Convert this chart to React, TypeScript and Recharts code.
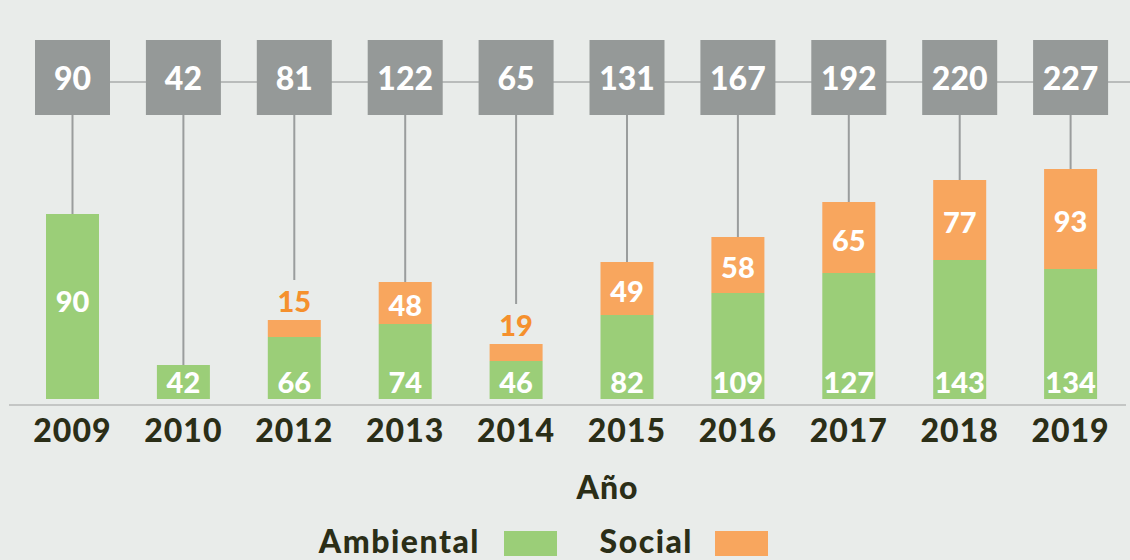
import React from 'react';
import { BarChart, Bar, XAxis, YAxis, LabelList, Legend } from 'recharts';

const years = ['2009', '2010', '2012', '2013', '2014', '2015', '2016', '2017', '2018', '2019'];
// values printed on the bars
const ambientalLabels = [90, 42, 66, 74, 46, 82, 109, 127, 143, 134];
const socialLabels = [0, 0, 15, 48, 19, 49, 58, 65, 77, 93];
const totals = [90, 42, 81, 122, 65, 131, 167, 192, 220, 227];
// bar heights as drawn in the picture (the 2009 bar is drawn about twice its printed value)
const ambientalHeights = [185, 34, 62, 75, 38, 84, 106, 126, 139, 130];
const socialHeights = [0, 0, 17, 42, 17, 53, 56, 71, 80, 100];

const data = years.map((year, i) => ({
  year,
  Ambiental: ambientalHeights[i],
  Social: socialHeights[i],
}));

const GREEN = '#9bce78';
const ORANGE = '#f8a65e';
const ORANGE_TEXT = '#f5902d';
const BOX = '#959998';
const DARK = '#2b2e17';
const FONT = 'Lato, "Open Sans", sans-serif';
const WEIGHT = 900;

const getBox = (p: any) => {
  const vb = p.viewBox && p.viewBox.width !== undefined ? p.viewBox : p;
  return { x: Number(vb.x), y: Number(vb.y), width: Number(vb.width), height: Number(vb.height) };
};

// drawn on the green (bottom) segment: green value, plus the total box and connectors
const AmbLabel = (props: any) => {
  const { x, y, width, height } = getBox(props);
  const i = years.indexOf(String(props.value));
  if (i < 0) return null;
  const cx = x + width / 2;
  const pxPerUnit = height / ambientalHeights[i];
  const stackTop = y - socialHeights[i] * pxPerUnit;
  const sHeight = socialHeights[i] * pxPerUnit;
  const outside = socialLabels[i] > 0 && sHeight < 30;
  const lineEnd = outside ? stackTop - 40 : stackTop;
  const baseline = height > 160 ? y + height / 2 + 5 : y + height - 6;
  return (
    <g>
      <line x1={cx} x2={cx + 120} y1={82} y2={82} stroke="#b9bcbb" strokeWidth={2} />
      <line x1={cx} x2={cx} y1={110} y2={lineEnd} stroke="#9a9d9d" strokeWidth={2} />
      <rect x={cx - 37.5} y={40} width={75} height={75} fill={BOX} />
      <text x={cx} y={90} textAnchor="middle" fill="#ffffff" fontSize={32} fontWeight={WEIGHT} fontFamily={FONT}>
        {totals[i]}
      </text>
      <text x={cx} y={baseline} textAnchor="middle" fill="#ffffff" fontSize={29} fontWeight={WEIGHT} fontFamily={FONT}>
        {ambientalLabels[i]}
      </text>
    </g>
  );
};

const SocialLabel = (props: any) => {
  const { x, y, width, height } = getBox(props);
  const i = years.indexOf(String(props.value));
  if (i < 0) return null;
  const s = socialLabels[i];
  if (!(s > 0)) return null;
  const cx = x + width / 2;
  const outside = height < 30;
  return (
    <text
      x={cx}
      y={outside ? y - 8 : y + height / 2 + 13}
      textAnchor="middle"
      fill={outside ? ORANGE_TEXT : '#ffffff'}
      fontSize={29}
      fontWeight={WEIGHT}
      fontFamily={FONT}
    >
      {s}
    </text>
  );
};

const AxisTitle = (props: any) => {
  const vb = props.viewBox || {};
  return (
    <text x={vb.x + vb.width / 2 + 40} y={vb.y + 94} textAnchor="middle" fill={DARK} fontSize={32} fontWeight={WEIGHT} fontFamily={FONT} letterSpacing={1}>
      Año
    </text>
  );
};

const legendLayout = [
  { textRight: 480, swatchX: 504 },
  { textRight: 693, swatchX: 715 },
];

const LegendContent = (props: any) => {
  const payload = props.payload || [];
  return (
    <svg width={1130} height={44} style={{ display: 'block' }}>
      {payload.map((p: any, i: number) => (
        <g key={p.value}>
          <text x={legendLayout[i].textRight} y={37} textAnchor="end" fill={DARK} fontSize={32} fontWeight={WEIGHT} fontFamily={FONT} letterSpacing={1.5}>
            {p.value}
          </text>
          <rect x={legendLayout[i].swatchX} y={15} width={53} height={25} fill={p.color} />
        </g>
      ))}
    </svg>
  );
};

export default function App() {
  return (
    <div style={{ position: 'absolute', left: 0, top: 0, width: 1130, height: 560, background: '#e9ecea', overflow: 'hidden' }}>
      <BarChart width={1130} height={560} data={data} margin={{ top: 165, right: 4, bottom: 0, left: 9 }} barSize={53}>
        <XAxis
          dataKey="year"
          height={155}
          padding={{ left: 8, right: 0 }}
          tickLine={false}
          tickSize={0}
          tickMargin={14}
          axisLine={{ stroke: '#c4c6c5', strokeWidth: 2 }}
          tick={{ fill: DARK, fontSize: 32, fontWeight: WEIGHT, fontFamily: FONT, letterSpacing: 1 }}
          interval={0}
          label={<AxisTitle />}
        />
        <YAxis hide domain={[-6, 234]} />
        <Legend
          layout="horizontal"
          verticalAlign="middle"
          align="center"
          content={<LegendContent />}
          wrapperStyle={{ top: 516, left: 0, width: 1130, height: 44 }}
        />
        <Bar dataKey="Ambiental" stackId="a" fill={GREEN} isAnimationActive={false}>
          <LabelList dataKey="year" content={<AmbLabel />} />
        </Bar>
        <Bar dataKey="Social" stackId="a" fill={ORANGE} isAnimationActive={false}>
          <LabelList dataKey="year" content={<SocialLabel />} />
        </Bar>
      </BarChart>
    </div>
  );
}
